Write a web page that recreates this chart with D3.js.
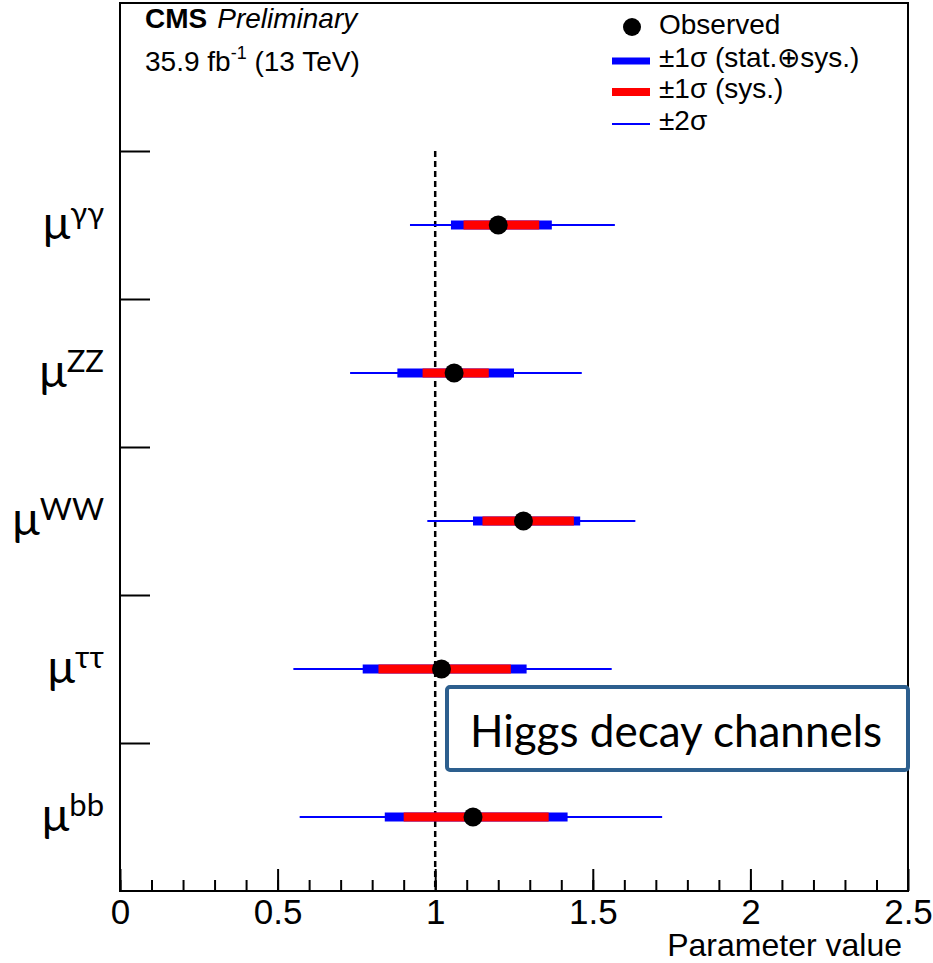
<!DOCTYPE html>
<html>
<head>
<meta charset="utf-8">
<script src="https://cdn.jsdelivr.net/npm/d3@7"></script>
<style>
  body { margin: 0; background: #fff; }
  svg text { font-family: "Liberation Sans", Arial, sans-serif; }
</style>
</head>
<body>
<svg id="chart"></svg>
<script>
'use strict';

// Channels from bottom to top
var channels = ['bb', 'ττ', 'WW', 'ZZ', 'γγ'];
var observed = [1.12, 1.02, 1.28, 1.06, 1.20];
// +-1 sigma total (stat + sys)
var totLow = [0.84, 0.77, 1.12, 0.88, 1.05];
var totHigh = [1.42, 1.29, 1.46, 1.25, 1.37];
// +-1 sigma systematic only
var sysLow = [0.90, 0.82, 1.15, 0.96, 1.09];
var sysHigh = [1.36, 1.24, 1.44, 1.17, 1.33];
// +-2 sigma
var twoLow = [0.57, 0.55, 0.975, 0.73, 0.92];
var twoHigh = [1.72, 1.56, 1.635, 1.465, 1.57];

var xTicks = [0, 0.5, 1, 1.5, 2, 2.5];
var legendLabels = ['Observed', '±1σ (stat.⊕sys.)', '±1σ (sys.)', '±2σ'];

var canvasWidth = 933;
var canvasHeight = 963;
var margin = { top: 3, right: 25, bottom: 72, left: 120 };
var width = canvasWidth - margin.left - margin.right;
var height = canvasHeight - margin.top - margin.bottom;

var svg = d3.select('#chart')
  .attr('width', canvasWidth)
  .attr('height', canvasHeight);

var g = svg.append('g')
  .attr('transform', 'translate(' + margin.left + ',' + margin.top + ')');

var xScale = d3.scaleLinear().domain([0, 2.5]).range([0, width]);
var yScale = d3.scaleLinear().domain([0, 6]).range([height, 0]);

var rows = channels.map(function(c, i) {
  return {
    name: c, y: i + 0.5, obs: observed[i],
    tl: totLow[i], th: totHigh[i],
    sl: sysLow[i], sh: sysHigh[i],
    wl: twoLow[i], wh: twoHigh[i]
  };
});

// minor ticks
g.append('g')
  .attr('class', 'x minor')
  .attr('transform', 'translate(0,' + height + ')')
  .call(d3.axisBottom(xScale).tickValues(d3.range(0, 25).map(function(d) { return d / 10; }))
    .tickSize(-11).tickFormat(''));

// major ticks with labels
g.append('g')
  .attr('class', 'x major')
  .attr('transform', 'translate(0,' + height + ')')
  .call(d3.axisBottom(xScale).tickValues(xTicks).tickSize(-22).tickPadding(8)
    .tickFormat(function(d) { return String(d); }));

g.selectAll('.x path').remove();
g.selectAll('.x line').attr('stroke', '#000').attr('stroke-width', 2);
g.selectAll('.x.major text')
  .attr('font-size', 35)
  .attr('font-family', '"Liberation Sans", Arial, sans-serif')
  .attr('fill', '#000');

// y ticks (band separators)
g.append('g')
  .attr('class', 'y axis')
  .call(d3.axisRight(yScale).tickValues([1, 2, 3, 4, 5]).tickSize(30).tickFormat(''))
  .call(function(a) { a.select('path').remove(); })
  .selectAll('line').attr('stroke', '#000').attr('stroke-width', 2);

// frame
g.append('rect')
  .attr('width', width)
  .attr('height', height)
  .attr('fill', 'none')
  .attr('stroke', '#000')
  .attr('stroke-width', 2);

// SM reference line
g.append('line')
  .attr('x1', xScale(1)).attr('x2', xScale(1))
  .attr('y1', yScale(5)).attr('y2', yScale(0))
  .attr('stroke', '#000')
  .attr('stroke-width', 2.5)
  .attr('stroke-dasharray', '6,4');

// annotation box
var box = g.append('g');
box.append('rect')
  .attr('x', 327).attr('y', 684)
  .attr('width', 461).attr('height', 83)
  .attr('rx', 3)
  .attr('fill', '#fff')
  .attr('stroke', '#2d5f8e')
  .attr('stroke-width', 4);
box.append('text')
  .attr('x', 350).attr('y', 744)
  .style('font-family', 'Lato, "Open Sans", sans-serif')
  .attr('font-size', 44)
  .text('Higgs decay channels');

// error bars
var bars = g.selectAll('.row')
  .data(rows)
  .enter().append('g')
  .attr('class', 'row');

bars.append('line')
  .attr('x1', function(d) { return xScale(d.wl); })
  .attr('x2', function(d) { return xScale(d.wh); })
  .attr('y1', function(d) { return yScale(d.y); })
  .attr('y2', function(d) { return yScale(d.y); })
  .attr('stroke', '#0000ff')
  .attr('stroke-width', 2);

bars.append('rect')
  .attr('x', function(d) { return xScale(d.tl); })
  .attr('width', function(d) { return xScale(d.th) - xScale(d.tl); })
  .attr('y', function(d) { return yScale(d.y) - 4.5; })
  .attr('height', 9)
  .attr('fill', '#0000ff');

bars.append('rect')
  .attr('x', function(d) { return xScale(d.sl); })
  .attr('width', function(d) { return xScale(d.sh) - xScale(d.sl); })
  .attr('y', function(d) { return yScale(d.y) - 4.5; })
  .attr('height', 9)
  .attr('fill', '#ff0000');

bars.append('circle')
  .attr('cx', function(d) { return xScale(d.obs); })
  .attr('cy', function(d) { return yScale(d.y); })
  .attr('r', 9.5)
  .attr('fill', '#000');

// channel labels mu^X
var labels = g.selectAll('.ylab')
  .data(rows)
  .enter().append('text')
  .attr('class', 'ylab')
  .attr('x', -16)
  .attr('y', function(d) { return yScale(d.y) + 14; })
  .attr('text-anchor', 'end')
  .style('font-family', 'Lato, "Open Sans", sans-serif');
labels.append('tspan').attr('font-size', 46).text('μ');
labels.append('tspan').attr('font-size', 31).attr('dy', -15)
  .text(function(d) { return d.name; });

// axis title
svg.append('text')
  .attr('x', 902)
  .attr('y', 956)
  .attr('text-anchor', 'end')
  .attr('font-size', 32)
  .text('Parameter value');

// CMS header
var cms = svg.append('text').attr('x', 145).attr('y', 28).attr('font-size', 28);
cms.append('tspan').attr('font-weight', 'bold').text('CMS');
cms.append('tspan').attr('font-style', 'italic').attr('dx', 10).text('Preliminary');

var lumi = svg.append('text').attr('x', 145).attr('y', 71).attr('font-size', 28);
lumi.append('tspan').text('35.9 fb');
lumi.append('tspan').attr('font-size', 18).attr('dy', -12).text('-1');
lumi.append('tspan').attr('dy', 12).text(' (13 TeV)');

// legend
var legend = svg.append('g').attr('class', 'legend');
var legY = [34, 67, 98, 130];
legend.selectAll('text')
  .data(legendLabels)
  .enter().append('text')
  .attr('x', 659)
  .attr('y', function(d, i) { return legY[i]; })
  .attr('font-size', 28)
  .text(function(d) { return d; });

legend.append('circle')
  .attr('cx', 632).attr('cy', legY[0] - 7)
  .attr('r', 9)
  .attr('fill', '#000');

var legStyles = [
  { color: '#0000ff', w: 7 },
  { color: '#ff0000', w: 8 },
  { color: '#0000ff', w: 2 }
];
legend.selectAll('.legline')
  .data(legStyles)
  .enter().append('line')
  .attr('class', 'legline')
  .attr('x1', 612).attr('x2', 650)
  .attr('y1', function(d, i) { return legY[i + 1] - 6; })
  .attr('y2', function(d, i) { return legY[i + 1] - 6; })
  .attr('stroke', function(d) { return d.color; })
  .attr('stroke-width', function(d) { return d.w; });
</script>
</body>
</html>
